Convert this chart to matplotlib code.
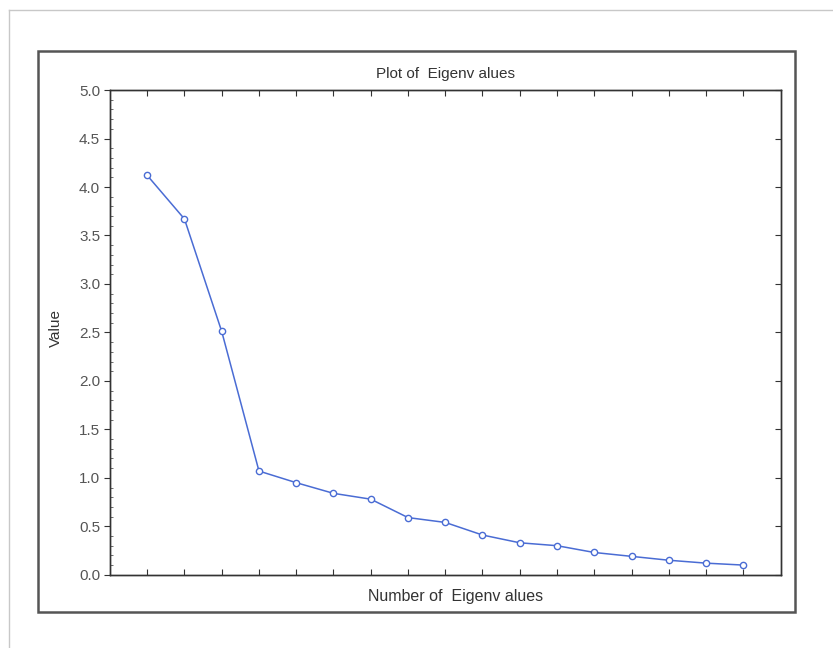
import matplotlib.pyplot as plt
from matplotlib.patches import Rectangle
from matplotlib.lines import Line2D
from matplotlib.ticker import MultipleLocator

plt.rcParams['font.family'] = ['Liberation Sans', 'DejaVu Sans']

n_eigen = list(range(1, 18))
eigenvalues = [4.12, 3.67, 2.51, 1.07, 0.95, 0.84, 0.78, 0.59, 0.54,
               0.41, 0.33, 0.30, 0.23, 0.19, 0.15, 0.12, 0.10]
y_ticks = [0.0, 0.5, 1.0, 1.5, 2.0, 2.5, 3.0, 3.5, 4.0, 4.5, 5.0]

fig = plt.figure(figsize=(8.33, 6.48), dpi=100)
ax = fig.add_axes([0.132, 0.113, 0.805, 0.748])

# outer light frame and inner dark frame
fig.add_artist(Line2D([9 / 833, 1.0], [1 - 10 / 648, 1 - 10 / 648],
                      color='#c8c8c8', lw=1, transform=fig.transFigure))
fig.add_artist(Line2D([9 / 833, 9 / 833], [0.0, 1 - 10 / 648],
                      color='#c8c8c8', lw=1, transform=fig.transFigure))
fig.add_artist(Rectangle((38 / 833, 1 - 612 / 648), 757 / 833, 561 / 648,
                         fill=False, edgecolor='#555555', lw=1.8,
                         transform=fig.transFigure))

ax.plot(n_eigen, eigenvalues, color='#4a6cd4', lw=1.1, marker='o',
        markersize=4.5, markerfacecolor='white', markeredgecolor='#4a6cd4',
        markeredgewidth=1.0)

ax.set_xlim(0, 18)
ax.set_ylim(0, 5)
ax.set_xticks(n_eigen)
ax.set_xticklabels([])
ax.set_yticks(y_ticks)
ax.set_yticklabels([f'{v:.1f}' for v in y_ticks])
ax.yaxis.set_minor_locator(MultipleLocator(0.1))

ax.tick_params(axis='x', direction='in', top=True, length=4, width=0.8,
               color='#333333')
ax.tick_params(axis='y', which='major', direction='out', length=4, width=0.8,
               color='#333333', labelsize=11, labelcolor='#555555', pad=3)
ax.tick_params(axis='y', which='minor', direction='in', length=2, width=0.6,
               color='#555555')

# right-hand ticks point inward
ax_r = ax.twinx()
ax_r.set_ylim(0, 5)
ax_r.set_yticks(y_ticks)
ax_r.set_yticklabels([])
ax_r.tick_params(axis='y', direction='in', length=4, width=0.8,
                 color='#333333')

for a in (ax, ax_r):
    for s in a.spines.values():
        s.set_color('#333333')
        s.set_linewidth(1.0)

ax.set_title('Plot of  Eigenv alues', fontsize=11, color='#333333', pad=9)
ax.set_xlabel('Number of  Eigenv alues', fontsize=11.5, color='#333333')
ax.xaxis.set_label_coords(0.515, -0.03, transform=ax.transAxes)
ax.xaxis.label.set_va('top')
ax.set_ylabel('Value', fontsize=11, color='#333333')
ax.yaxis.label.set_va('center')
ax.yaxis.set_label_coords(-0.08, 0.51, transform=ax.transAxes)

fig.savefig('out.png', dpi=100)
